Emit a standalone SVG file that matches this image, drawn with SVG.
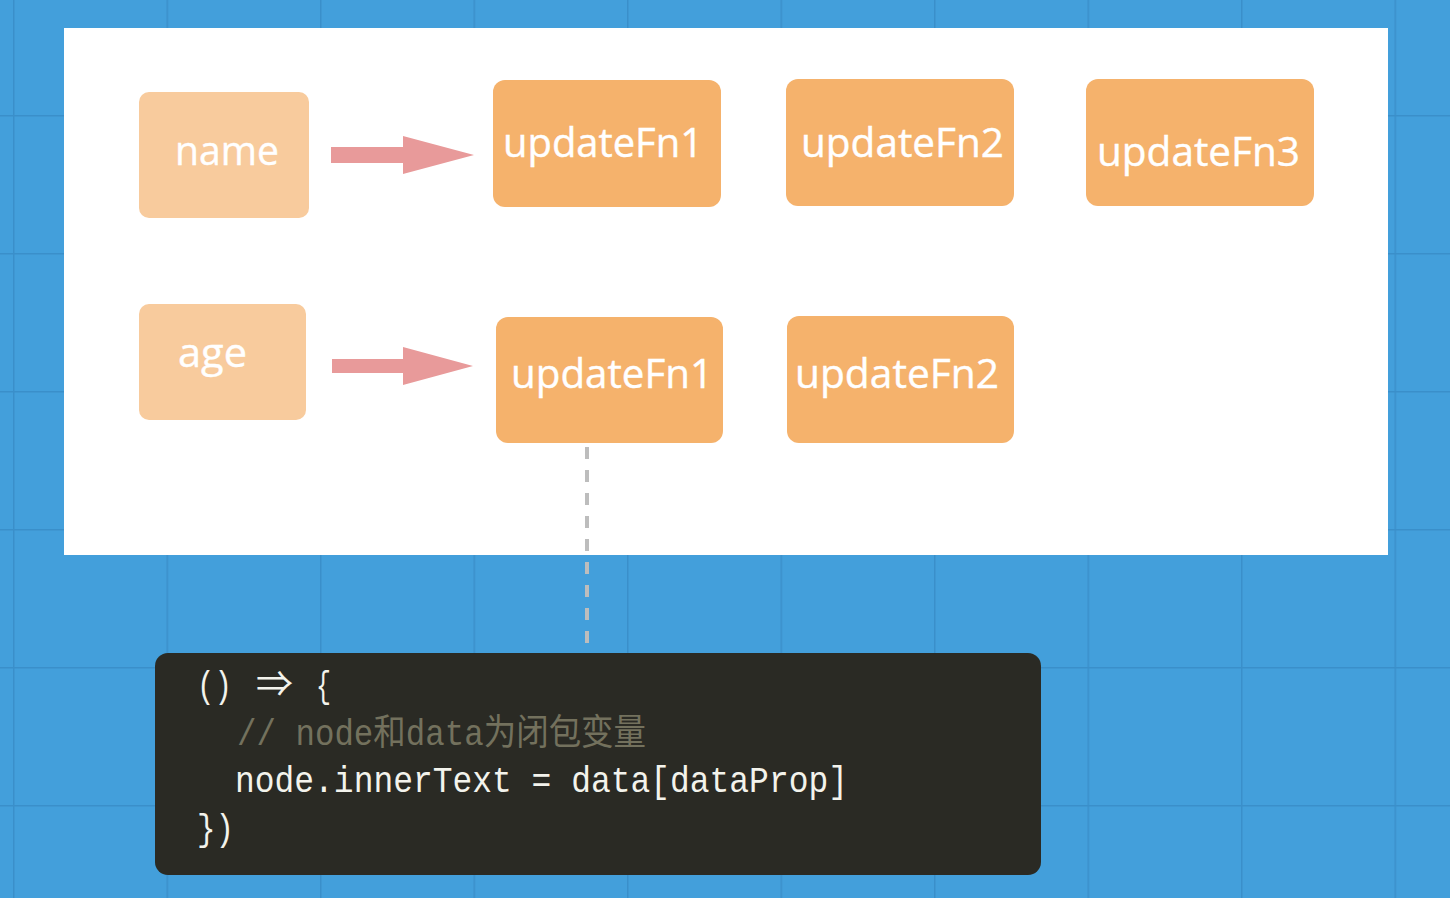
<svg xmlns="http://www.w3.org/2000/svg" width="1450" height="898" viewBox="0 0 1450 898">
<defs>
<pattern id="grid" x="13" y="115" width="153.5" height="138" patternUnits="userSpaceOnUse">
<rect width="153.5" height="138" fill="#439fdb"/>
<path d="M0.75 0V138M0 0.75H153.5" stroke="#3a8fca" stroke-width="1.5" fill="none"/>
</pattern>
</defs>
<style>
.light{fill:#f8cb9d}
.dark{fill:#f5b26c}
.lbl{font-family:"Open Sans","Noto Sans",sans-serif;font-size:40px;fill:#ffffff;stroke:#ffffff;stroke-width:0.4}
.code{font-family:"Liberation Mono","Noto Sans CJK SC",monospace;font-size:36px;fill:#f3f3ec}
.cmt{font-family:"Liberation Mono","Noto Sans CJK SC",monospace;font-size:36px;fill:#73715d}
.arrow{fill:#e89a9a}
</style>
<rect width="1450" height="898" fill="url(#grid)"/>
<rect x="64" y="28" width="1324" height="527" fill="#ffffff"/>
<g id="connectors">
<polygon class="arrow" points="331,147 403,147 403,136 474,155 403,174 403,163 331,163"/>
<polygon class="arrow" points="332,359 403,359 403,347 473,366 403,385 403,373 332,373"/>
<line x1="587" y1="447" x2="587" y2="643" stroke="#bdbdbd" stroke-width="4" stroke-dasharray="12 11"/>
</g>
<g id="node-name">
<rect class="light" x="139" y="92" width="170" height="126" rx="10"/>
<text class="lbl" x="175" y="165" textLength="104" lengthAdjust="spacingAndGlyphs">name</text>
</g>
<g id="node-age">
<rect class="light" x="139" y="304" width="167" height="116" rx="10"/>
<text class="lbl" x="178" y="367" textLength="69" lengthAdjust="spacingAndGlyphs">age</text>
</g>
<g id="node-name-fn1">
<rect class="dark" x="493" y="80" width="228" height="127" rx="12"/>
<text class="lbl" x="503" y="157" textLength="200" lengthAdjust="spacingAndGlyphs">updateFn1</text>
</g>
<g id="node-name-fn2">
<rect class="dark" x="786" y="79" width="228" height="127" rx="12"/>
<text class="lbl" x="801" y="157" textLength="203" lengthAdjust="spacingAndGlyphs">updateFn2</text>
</g>
<g id="node-name-fn3">
<rect class="dark" x="1086" y="79" width="228" height="127" rx="12"/>
<text class="lbl" x="1097" y="166" textLength="203" lengthAdjust="spacingAndGlyphs">updateFn3</text>
</g>
<g id="node-age-fn1">
<rect class="dark" x="496" y="317" width="227" height="126" rx="12"/>
<text class="lbl" x="511" y="388" textLength="202" lengthAdjust="spacingAndGlyphs">updateFn1</text>
</g>
<g id="node-age-fn2">
<rect class="dark" x="787" y="316" width="227" height="127" rx="12"/>
<text class="lbl" x="795" y="388" textLength="204" lengthAdjust="spacingAndGlyphs">updateFn2</text>
</g>
<g id="node-code">
<rect x="155" y="653" width="886" height="222" rx="13" fill="#2a2a24"/>
<text class="code" y="697"><tspan x="197" textLength="35" lengthAdjust="spacingAndGlyphs">()</tspan><tspan x="256" textLength="37" lengthAdjust="spacingAndGlyphs">⇒</tspan><tspan x="316" textLength="15" lengthAdjust="spacingAndGlyphs">{</tspan></text>
<text class="cmt" x="237" y="745" textLength="409" lengthAdjust="spacingAndGlyphs">// node和data为闭包变量</text>
<text class="code" x="235" y="792" textLength="613" lengthAdjust="spacingAndGlyphs">node.innerText = data[dataProp]</text>
<text class="code" x="197" y="840" textLength="37" lengthAdjust="spacingAndGlyphs">})</text>
</g>
</svg>
